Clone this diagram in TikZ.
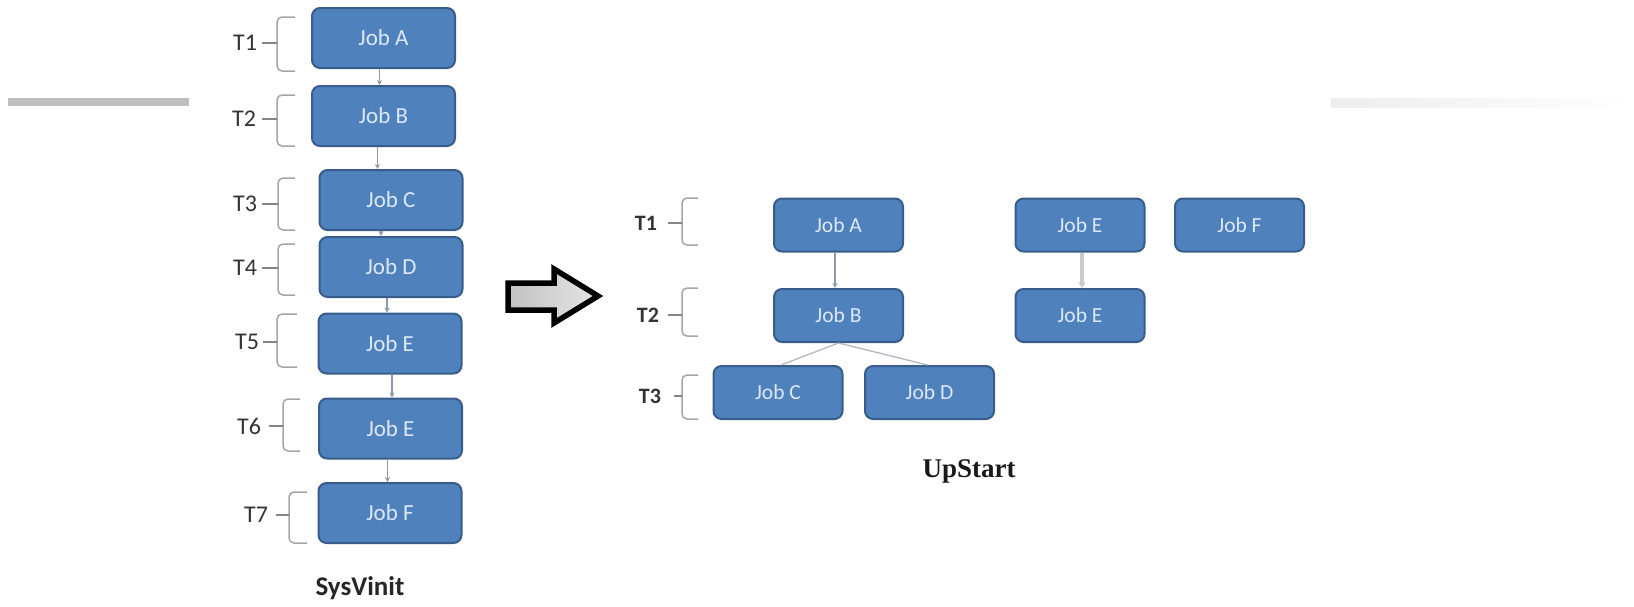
\documentclass[tikz,border=0pt]{standalone}
\usepackage{fontspec}
\setmainfont{Carlito}
\newfontfamily\serifbold{Liberation Serif}
\usetikzlibrary{arrows.meta,calc}
\definecolor{jobfill}{HTML}{4F81BD}
\definecolor{jobdraw}{HTML}{385D8A}
\definecolor{jobtext}{HTML}{DCE8F7}
\definecolor{brc}{HTML}{A6A6A6}
\definecolor{connc}{HTML}{8E9AA8}
\definecolor{connlight}{HTML}{C8CCD0}
\newcommand\tbr[9]{%
  \node[tlabel] (#9) at (#1,#2) {#3};
  \draw[bracepath] (#6,#7) -- (#5,#7) -- (#5,#8) -- (#6,#8);
  \draw[tickpath] (#4,#2) -- (#5,#2);
}
\begin{document}
\begin{tikzpicture}[x=1pt,y=-1pt,
  jobbox/.style={draw=jobdraw, line width=2pt, fill=jobfill, rounded corners=8pt,
    text=jobtext, inner sep=0pt},
  leftjob/.style={jobbox, minimum width=143pt, minimum height=60pt, font=\fontsize{23}{23}\selectfont},
  rightjob/.style={jobbox, minimum width=129pt, minimum height=53pt, font=\fontsize{21.5}{21.5}\selectfont},
  tlabel/.style={text=black!80, font=\fontsize{24}{24}\selectfont},
  bracepath/.style={draw=brc, line width=1.5pt, rounded corners=5pt},
  tickpath/.style={draw=brc!80!black, line width=1.5pt},
  conn/.style={draw=connc, line width=1.5pt, -{Stealth[length=5pt,width=5pt]}},
  connthin/.style={draw=connc!70, line width=1.3pt},
  connthick/.style={draw=connlight, line width=3.5pt, -{Stealth[length=6pt,width=8pt]}},
]
\useasboundingbox (0,0) rectangle (1634,606);

% gray bars
\fill[black!25] (8,98) rectangle (189,106);
\shade[left color=black!7, right color=white] (1331,98) rectangle (1634,107);

% ---------- SysVinit column ----------
\node[leftjob] (lA) at (383.5,38) {Job A};
\node[leftjob] (lB) at (383.5,116) {Job B};
\node[leftjob] (lC) at (391,200) {Job C};
\node[leftjob] (lD) at (391,267) {Job D};
\node[leftjob] (lE1) at (390,343.5) {Job E};
\node[leftjob] (lE2) at (390.5,428.5) {Job E};
\node[leftjob] (lF) at (390,513) {Job F};

\draw[conn] ([xshift=-4pt]lA.south) -- ([xshift=-4pt]lA.south |- lB.north);
\draw[conn] ([xshift=-6pt]lB.south) -- ([xshift=-6pt]lB.south |- lC.north);
\draw[conn] ([xshift=-10pt]lC.south) -- ([xshift=-10pt]lC.south |- lD.north);
\draw[conn] ([xshift=-4pt]lD.south) -- ([xshift=-4pt]lD.south |- lE1.north);
\draw[conn] ([xshift=2pt]lE1.south) -- ([xshift=2pt]lE1.south |- lE2.north);
\draw[conn] ([xshift=-3pt]lE2.south) -- ([xshift=-3pt]lE2.south |- lF.north);

\tbr{245}{43}{T1}{262}{277}{295}{17}{71}{lt1}
\tbr{244}{119}{T2}{262}{277}{295}{95}{146}{lt2}
\tbr{245}{204}{T3}{262}{278}{295}{178}{230}{lt3}
\tbr{245}{268}{T4}{262}{278}{295}{244}{295}{lt4}
\tbr{247}{342}{T5}{263}{277}{297}{314}{367}{lt5}
\tbr{249}{426}{T6}{269}{283}{300}{399}{451}{lt6}
\tbr{256}{515}{T7}{276}{289}{307}{492}{543}{lt7}

\node[font=\fontsize{27}{27}\selectfont\bfseries, text=black!85] (sysv) at (360,588) {SysVinit};

% ---------- big arrow ----------
\shade[left color=black!24, right color=black!10, draw=black, line width=5.5pt, miter limit=10]
  (508,283) -- (554,283) -- (554,269) -- (598,296) -- (554,323) -- (554,310) -- (508,310) -- cycle;

% ---------- UpStart ----------
\node[rightjob] (rA) at (838.5,225) {Job A};
\node[rightjob] (rB) at (838.5,315.5) {Job B};
\node[rightjob] (rC) at (778,392.5) {Job C};
\node[rightjob] (rD) at (929.5,392.5) {Job D};
\node[rightjob] (rE1) at (1080,225) {Job E};
\node[rightjob] (rF) at (1239.5,225) {Job F};
\node[rightjob] (rE2) at (1080,315.5) {Job E};

\draw[conn] ([xshift=-3.5pt]rA.south) -- ([xshift=-3.5pt]rA.south |- rB.north);
\draw[connthin] (rB.south) -- ([xshift=3pt]rC.north);
\draw[connthin] (rB.south) -- ([xshift=-2pt]rD.north);
\draw[connthick] ([xshift=2pt]rE1.south) -- ([xshift=2pt]rE1.south |- rE2.north);

\begin{scope}[tlabel/.style={text=black!80, font=\fontsize{22}{22}\selectfont\bfseries}]
\tbr{646}{223}{T1}{668}{682}{698}{198}{245}{rt1}
\tbr{648}{315}{T2}{668}{682}{698}{288}{336}{rt2}
\tbr{650}{396}{T3}{674}{682}{698}{375}{419}{rt3}
\end{scope}

\node[font=\fontsize{27}{27}\selectfont\serifbold\bfseries, text=black!90] (upst) at (969,471) {UpStart};
\end{tikzpicture}
\end{document}
